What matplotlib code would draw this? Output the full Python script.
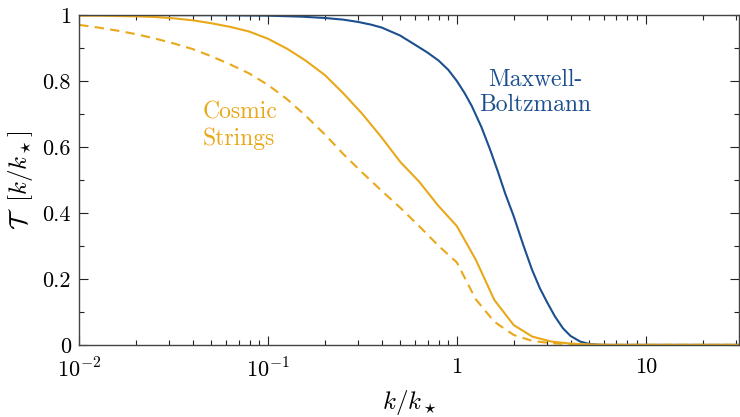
import matplotlib
matplotlib.use("Agg")
import matplotlib.pyplot as plt
from matplotlib.ticker import FixedLocator, NullFormatter

plt.rcParams['font.family'] = 'serif'
plt.rcParams['font.serif'] = ['cmr10']
plt.rcParams['mathtext.fontset'] = 'cm'
plt.rcParams['axes.formatter.use_mathtext'] = True
plt.rcParams['axes.unicode_minus'] = False

BLUE = '#1b4f8e'
ORANGE = '#e9a81a'

# Maxwell-Boltzmann transfer function
mb_k = [0.01, 0.05, 0.1, 0.15, 0.2, 0.25, 0.3, 0.35, 0.4, 0.5, 0.6, 0.7, 0.8,
        0.9, 1.0, 1.1, 1.2, 1.35, 1.5, 1.65, 1.8, 2.0, 2.25, 2.5, 2.75, 3.0,
        3.3, 3.65, 4.0, 4.5, 5.0, 5.5, 6.0, 10.0, 31.6]
mb_T = [1.0, 0.9995, 0.998, 0.995, 0.991, 0.986, 0.979, 0.971, 0.962, 0.938,
        0.91, 0.886, 0.862, 0.834, 0.80, 0.763, 0.724, 0.66, 0.592, 0.525,
        0.46, 0.39, 0.302, 0.228, 0.172, 0.13, 0.087, 0.05, 0.027, 0.01,
        0.003, 0.001, 0.0, 0.0, 0.0]

# cosmic strings, sampled every 0.1 dex
cs_k = [0.01, 0.0126, 0.0158, 0.02, 0.0251, 0.0316, 0.0398, 0.0501, 0.0631,
        0.0794, 0.1, 0.126, 0.158, 0.2, 0.251, 0.316, 0.398, 0.501, 0.631,
        0.794, 1.0, 1.26, 1.58, 2.0, 2.51, 3.16, 3.98, 5.01, 6.31, 10.0, 31.6]
cs_solid = [0.998, 0.998, 0.997, 0.996, 0.994, 0.99, 0.984, 0.975, 0.964,
            0.95, 0.928, 0.898, 0.862, 0.818, 0.762, 0.70, 0.63, 0.555, 0.495,
            0.423, 0.36, 0.258, 0.136, 0.06, 0.025, 0.01, 0.004, 0.001, 0.0,
            0.0, 0.0]
cs_dashed = [0.97, 0.962, 0.953, 0.942, 0.929, 0.914, 0.897, 0.875, 0.85,
             0.823, 0.788, 0.745, 0.695, 0.638, 0.578, 0.522, 0.468, 0.416,
             0.36, 0.302, 0.25, 0.138, 0.07, 0.03, 0.012, 0.005, 0.002, 0.0005,
             0.0, 0.0, 0.0]

x_ticks = [0.01, 0.1, 1, 10]
x_ticklabels = [r'$10^{-2}$', r'$10^{-1}$', '1', '10']
y_ticks = [0, 0.2, 0.4, 0.6, 0.8, 1.0]
y_ticklabels = ['0', '0.2', '0.4', '0.6', '0.8', '1']

fig = plt.figure(figsize=(7.4, 4.17), dpi=100)
ax = fig.add_axes([0.107, 0.173, 0.892, 0.791])

ax.plot(mb_k, mb_T, color=BLUE, lw=1.5)
ax.plot(cs_k, cs_solid, color=ORANGE, lw=1.5)
ax.plot(cs_k, cs_dashed, color=ORANGE, lw=1.5, dashes=(4.5, 3))

ax.set_xscale('log')
ax.set_xlim(0.01, 31.3)
ax.set_ylim(0, 1)

ax.set_xticks(x_ticks, labels=x_ticklabels)
minors = [m * 10.0 ** e for e in range(-2, 2) for m in range(2, 10)]
ax.xaxis.set_minor_locator(FixedLocator(minors))
ax.xaxis.set_minor_formatter(NullFormatter())
ax.set_yticks(y_ticks, labels=y_ticklabels)
ax.set_yticks([0.1, 0.3, 0.5, 0.7, 0.9], minor=True)

ax.tick_params(which='both', direction='in', top=True, right=True,
               labelsize=16, color='#222222')
ax.tick_params(which='major', length=6.5, width=0.8, pad=6)
ax.tick_params(axis='x', which='major', pad=9)
ax.tick_params(which='minor', length=3.6, width=0.8)
for s in ax.spines.values():
    s.set_color('#444444')
    s.set_linewidth(1.0)

ax.set_xlabel(r'$k/k_\star$', fontsize=18, labelpad=5)
ax.set_ylabel(r'$\mathcal{T}\ \ [k/k_\star]$', fontsize=18, labelpad=5)

ax.text(0.0448, 0.665, 'Cosmic\nStrings', color=ORANGE, fontsize=17,
        ha='left', va='center', linespacing=1.2)
ax.text(2.59, 0.765, 'Maxwell-\nBoltzmann', color=BLUE, fontsize=17,
        ha='center', va='center', linespacing=1.2)

fig.savefig('out.png', dpi=100)
